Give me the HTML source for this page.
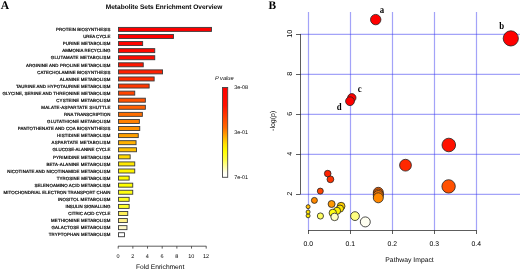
<!DOCTYPE html>
<html><head><meta charset="utf-8"><style>
html,body{margin:0;padding:0;background:#fff;width:520px;height:270px;overflow:hidden}
svg{display:block;will-change:transform} text{text-rendering:geometricPrecision}
</style></head><body>
<svg width="520" height="270" viewBox="0 0 520 270"><text x="0.8" y="8.6" font-family='"Liberation Serif", serif' font-weight="bold" font-size="11.6" textLength="8.4" lengthAdjust="spacingAndGlyphs">A</text>
<text x="105.8" y="8.9" font-family='"Liberation Sans", sans-serif' font-weight="bold" font-size="6.53" textLength="116.5" lengthAdjust="spacingAndGlyphs">Metabolite Sets Enrichment Overview</text>
<rect x="118.5" y="27.40" width="92.95" height="4" fill="#FF0000" stroke="#3a3a3a" stroke-width="0.9"/>
<text x="56.1" y="31.10" font-family='"Liberation Sans", sans-serif' font-size="4.4" fill="#000" stroke="#000" stroke-width="0.22" stroke-opacity="0.9" textLength="54.3" lengthAdjust="spacing">PROTEIN BIOSYNTHESIS</text>
<rect x="118.5" y="34.48" width="54.95" height="4" fill="#FF0000" stroke="#3a3a3a" stroke-width="0.9"/>
<text x="83.2" y="38.18" font-family='"Liberation Sans", sans-serif' font-size="4.4" fill="#000" stroke="#000" stroke-width="0.22" stroke-opacity="0.9" textLength="27.2" lengthAdjust="spacing">UREA CYCLE</text>
<rect x="118.5" y="41.56" width="24.15" height="4" fill="#FF0400" stroke="#3a3a3a" stroke-width="0.9"/>
<text x="62.8" y="45.26" font-family='"Liberation Sans", sans-serif' font-size="4.4" fill="#000" stroke="#000" stroke-width="0.22" stroke-opacity="0.9" textLength="47.6" lengthAdjust="spacing">PURINE METABOLISM</text>
<rect x="118.5" y="48.64" width="36.25" height="4" fill="#FF0800" stroke="#3a3a3a" stroke-width="0.9"/>
<text x="62.2" y="52.34" font-family='"Liberation Sans", sans-serif' font-size="4.4" fill="#000" stroke="#000" stroke-width="0.22" stroke-opacity="0.9" textLength="48.2" lengthAdjust="spacing">AMMONIA RECYCLING</text>
<rect x="118.5" y="55.72" width="36.25" height="4" fill="#FF0C00" stroke="#3a3a3a" stroke-width="0.9"/>
<text x="50.8" y="59.42" font-family='"Liberation Sans", sans-serif' font-size="4.4" fill="#000" stroke="#000" stroke-width="0.22" stroke-opacity="0.9" textLength="59.6" lengthAdjust="spacing">GLUTAMATE METABOLISM</text>
<rect x="118.5" y="62.80" width="24.75" height="4" fill="#FF1600" stroke="#3a3a3a" stroke-width="0.9"/>
<text x="26.1" y="66.50" font-family='"Liberation Sans", sans-serif' font-size="4.4" fill="#000" stroke="#000" stroke-width="0.22" stroke-opacity="0.9" textLength="84.3" lengthAdjust="spacing">ARGININE AND PROLINE METABOLISM</text>
<rect x="118.5" y="69.88" width="44.05" height="4" fill="#FF2000" stroke="#3a3a3a" stroke-width="0.9"/>
<text x="37.2" y="73.58" font-family='"Liberation Sans", sans-serif' font-size="4.4" fill="#000" stroke="#000" stroke-width="0.22" stroke-opacity="0.9" textLength="73.2" lengthAdjust="spacing">CATECHOLAMINE BIOSYNTHESIS</text>
<rect x="118.5" y="76.96" width="35.65" height="4" fill="#FF2C00" stroke="#3a3a3a" stroke-width="0.9"/>
<text x="59.8" y="80.66" font-family='"Liberation Sans", sans-serif' font-size="4.4" fill="#000" stroke="#000" stroke-width="0.22" stroke-opacity="0.9" textLength="50.6" lengthAdjust="spacing">ALANINE METABOLISM</text>
<rect x="118.5" y="84.04" width="30.65" height="4" fill="#FF3800" stroke="#3a3a3a" stroke-width="0.9"/>
<text x="15.9" y="87.74" font-family='"Liberation Sans", sans-serif' font-size="4.4" fill="#000" stroke="#000" stroke-width="0.22" stroke-opacity="0.9" textLength="94.5" lengthAdjust="spacing">TAURINE AND HYPOTAURINE METABOLISM</text>
<rect x="118.5" y="91.12" width="16.25" height="4" fill="#FF4400" stroke="#3a3a3a" stroke-width="0.9"/>
<text x="2.4" y="94.82" font-family='"Liberation Sans", sans-serif' font-size="4.4" fill="#000" stroke="#000" stroke-width="0.22" stroke-opacity="0.9" textLength="108.0" lengthAdjust="spacing">GLYCINE, SERINE AND THREONINE METABOLISM</text>
<rect x="118.5" y="98.20" width="26.85" height="4" fill="#FF5200" stroke="#3a3a3a" stroke-width="0.9"/>
<text x="56.3" y="101.90" font-family='"Liberation Sans", sans-serif' font-size="4.4" fill="#000" stroke="#000" stroke-width="0.22" stroke-opacity="0.9" textLength="54.1" lengthAdjust="spacing">CYSTEINE METABOLISM</text>
<rect x="118.5" y="105.28" width="26.85" height="4" fill="#FF6000" stroke="#3a3a3a" stroke-width="0.9"/>
<text x="41.3" y="108.98" font-family='"Liberation Sans", sans-serif' font-size="4.4" fill="#000" stroke="#000" stroke-width="0.22" stroke-opacity="0.9" textLength="69.1" lengthAdjust="spacing">MALATE-ASPARTATE SHUTTLE</text>
<rect x="118.5" y="112.36" width="23.85" height="4" fill="#FF6E00" stroke="#3a3a3a" stroke-width="0.9"/>
<text x="64.1" y="116.06" font-family='"Liberation Sans", sans-serif' font-size="4.4" fill="#000" stroke="#000" stroke-width="0.22" stroke-opacity="0.9" textLength="46.3" lengthAdjust="spacing">RNA TRANSCRIPTION</text>
<rect x="118.5" y="119.44" width="20.85" height="4" fill="#FF8000" stroke="#3a3a3a" stroke-width="0.9"/>
<text x="47.1" y="123.14" font-family='"Liberation Sans", sans-serif' font-size="4.4" fill="#000" stroke="#000" stroke-width="0.22" stroke-opacity="0.9" textLength="63.3" lengthAdjust="spacing">GLUTATHIONE METABOLISM</text>
<rect x="118.5" y="126.52" width="21.25" height="4" fill="#FF9000" stroke="#3a3a3a" stroke-width="0.9"/>
<text x="17.8" y="130.22" font-family='"Liberation Sans", sans-serif' font-size="4.4" fill="#000" stroke="#000" stroke-width="0.22" stroke-opacity="0.9" textLength="92.6" lengthAdjust="spacing">PANTOTHENATE AND COA BIOSYNTHESIS</text>
<rect x="118.5" y="133.60" width="19.75" height="4" fill="#FFA000" stroke="#3a3a3a" stroke-width="0.9"/>
<text x="57.1" y="137.30" font-family='"Liberation Sans", sans-serif' font-size="4.4" fill="#000" stroke="#000" stroke-width="0.22" stroke-opacity="0.9" textLength="53.3" lengthAdjust="spacing">HISTIDINE METABOLISM</text>
<rect x="118.5" y="140.68" width="17.55" height="4" fill="#FFB000" stroke="#3a3a3a" stroke-width="0.9"/>
<text x="51.5" y="144.38" font-family='"Liberation Sans", sans-serif' font-size="4.4" fill="#000" stroke="#000" stroke-width="0.22" stroke-opacity="0.9" textLength="58.9" lengthAdjust="spacing">ASPARTATE METABOLISM</text>
<rect x="118.5" y="147.76" width="17.95" height="4" fill="#FFC000" stroke="#3a3a3a" stroke-width="0.9"/>
<text x="52.6" y="151.46" font-family='"Liberation Sans", sans-serif' font-size="4.4" fill="#000" stroke="#000" stroke-width="0.22" stroke-opacity="0.9" textLength="57.8" lengthAdjust="spacing">GLUCOSE-ALANINE CYCLE</text>
<rect x="118.5" y="154.84" width="11.65" height="4" fill="#FFD800" stroke="#3a3a3a" stroke-width="0.9"/>
<text x="53.0" y="158.54" font-family='"Liberation Sans", sans-serif' font-size="4.4" fill="#000" stroke="#000" stroke-width="0.22" stroke-opacity="0.9" textLength="57.4" lengthAdjust="spacing">PYRIMIDINE METABOLISM</text>
<rect x="118.5" y="161.92" width="16.25" height="4" fill="#FFE800" stroke="#3a3a3a" stroke-width="0.9"/>
<text x="46.5" y="165.62" font-family='"Liberation Sans", sans-serif' font-size="4.4" fill="#000" stroke="#000" stroke-width="0.22" stroke-opacity="0.9" textLength="63.9" lengthAdjust="spacing">BETA-ALANINE METABOLISM</text>
<rect x="118.5" y="169.00" width="16.25" height="4" fill="#FFF500" stroke="#3a3a3a" stroke-width="0.9"/>
<text x="7.2" y="172.70" font-family='"Liberation Sans", sans-serif' font-size="4.4" fill="#000" stroke="#000" stroke-width="0.22" stroke-opacity="0.9" textLength="103.2" lengthAdjust="spacing">NICOTINATE AND NICOTINAMIDE METABOLISM</text>
<rect x="118.5" y="176.08" width="10.65" height="4" fill="#FFFC00" stroke="#3a3a3a" stroke-width="0.9"/>
<text x="56.7" y="179.78" font-family='"Liberation Sans", sans-serif' font-size="4.4" fill="#000" stroke="#000" stroke-width="0.22" stroke-opacity="0.9" textLength="53.7" lengthAdjust="spacing">TYROSINE METABOLISM</text>
<rect x="118.5" y="183.16" width="14.25" height="4" fill="#FFFF00" stroke="#3a3a3a" stroke-width="0.9"/>
<text x="34.5" y="186.86" font-family='"Liberation Sans", sans-serif' font-size="4.4" fill="#000" stroke="#000" stroke-width="0.22" stroke-opacity="0.9" textLength="75.9" lengthAdjust="spacing">SELENOAMINO ACID METABOLISM</text>
<rect x="118.5" y="190.24" width="14.25" height="4" fill="#FFFF10" stroke="#3a3a3a" stroke-width="0.9"/>
<text x="3.5" y="193.94" font-family='"Liberation Sans", sans-serif' font-size="4.4" fill="#000" stroke="#000" stroke-width="0.22" stroke-opacity="0.9" textLength="106.9" lengthAdjust="spacing">MITOCHONDRIAL ELECTRON TRANSPORT CHAIN</text>
<rect x="118.5" y="197.32" width="10.65" height="4" fill="#FFFF20" stroke="#3a3a3a" stroke-width="0.9"/>
<text x="57.8" y="201.02" font-family='"Liberation Sans", sans-serif' font-size="4.4" fill="#000" stroke="#000" stroke-width="0.22" stroke-opacity="0.9" textLength="52.6" lengthAdjust="spacing">INOSITOL METABOLISM</text>
<rect x="118.5" y="204.40" width="10.65" height="4" fill="#FFFF28" stroke="#3a3a3a" stroke-width="0.9"/>
<text x="65.4" y="208.10" font-family='"Liberation Sans", sans-serif' font-size="4.4" fill="#000" stroke="#000" stroke-width="0.22" stroke-opacity="0.9" textLength="45.0" lengthAdjust="spacing">INSULIN SIGNALLING</text>
<rect x="118.5" y="211.48" width="9.25" height="4" fill="#FFF058" stroke="#3a3a3a" stroke-width="0.9"/>
<text x="68.3" y="215.18" font-family='"Liberation Sans", sans-serif' font-size="4.4" fill="#000" stroke="#000" stroke-width="0.22" stroke-opacity="0.9" textLength="42.1" lengthAdjust="spacing">CITRIC ACID CYCLE</text>
<rect x="118.5" y="218.56" width="8.85" height="4" fill="#FFF088" stroke="#3a3a3a" stroke-width="0.9"/>
<text x="51.1" y="222.26" font-family='"Liberation Sans", sans-serif' font-size="4.4" fill="#000" stroke="#000" stroke-width="0.22" stroke-opacity="0.9" textLength="59.3" lengthAdjust="spacing">METHIONINE METABOLISM</text>
<rect x="118.5" y="225.64" width="8.45" height="4" fill="#FFF8C8" stroke="#3a3a3a" stroke-width="0.9"/>
<text x="51.5" y="229.34" font-family='"Liberation Sans", sans-serif' font-size="4.4" fill="#000" stroke="#000" stroke-width="0.22" stroke-opacity="0.9" textLength="58.9" lengthAdjust="spacing">GALACTOSE METABOLISM</text>
<rect x="118.5" y="232.72" width="5.95" height="4" fill="#FFFFFF" stroke="#3a3a3a" stroke-width="0.9"/>
<text x="48.7" y="236.42" font-family='"Liberation Sans", sans-serif' font-size="4.4" fill="#000" stroke="#000" stroke-width="0.22" stroke-opacity="0.9" textLength="61.7" lengthAdjust="spacing">TRYPTOPHAN METABOLISM</text>
<path d="M118 246.2H206.3M118.20 246.2V248.6M132.87 246.2V248.6M147.53 246.2V248.6M162.20 246.2V248.6M176.87 246.2V248.6M191.53 246.2V248.6M206.20 246.2V248.6" stroke="#333" stroke-width="0.8" fill="none"/>
<text x="118.00" y="257.5" text-anchor="middle" font-family='"Liberation Sans", sans-serif' font-size="5.5">0</text>
<text x="132.67" y="257.5" text-anchor="middle" font-family='"Liberation Sans", sans-serif' font-size="5.5">2</text>
<text x="147.33" y="257.5" text-anchor="middle" font-family='"Liberation Sans", sans-serif' font-size="5.5">4</text>
<text x="162.00" y="257.5" text-anchor="middle" font-family='"Liberation Sans", sans-serif' font-size="5.5">6</text>
<text x="176.67" y="257.5" text-anchor="middle" font-family='"Liberation Sans", sans-serif' font-size="5.5">8</text>
<text x="191.33" y="257.5" text-anchor="middle" font-family='"Liberation Sans", sans-serif' font-size="5.5">10</text>
<text x="206.00" y="257.5" text-anchor="middle" font-family='"Liberation Sans", sans-serif' font-size="5.5">12</text>
<text x="136" y="268.9" font-family='"Liberation Sans", sans-serif' font-size="6.65">Fold Enrichment</text>
<defs><linearGradient id="cb" x1="0" y1="0" x2="0" y2="1"><stop offset="0" stop-color="#FF0000"/><stop offset="0.2" stop-color="#FF1000"/><stop offset="0.45" stop-color="#FF6A00"/><stop offset="0.53" stop-color="#FFA000"/><stop offset="0.63" stop-color="#FFE000"/><stop offset="0.71" stop-color="#FFFF00"/><stop offset="0.80" stop-color="#FFFF40"/><stop offset="0.88" stop-color="#FFFFA0"/><stop offset="0.95" stop-color="#FFFFF0"/><stop offset="1" stop-color="#FFFFFF"/></linearGradient></defs>
<rect x="222.5" y="87.5" width="5.2" height="89.8" fill="url(#cb)" stroke="#444" stroke-width="0.9"/>
<text x="215" y="79.7" font-family='"Liberation Sans", sans-serif' font-style="italic" font-size="5.6" textLength="18.6" lengthAdjust="spacingAndGlyphs">P value</text>
<text x="234.2" y="89.00" font-family='"Liberation Sans", sans-serif' font-size="5.4">3e-08</text>
<text x="234.2" y="133.90" font-family='"Liberation Sans", sans-serif' font-size="5.4">3e-01</text>
<text x="234.2" y="178.90" font-family='"Liberation Sans", sans-serif' font-size="5.4">7e-01</text>
<text x="268.6" y="8.6" font-family='"Liberation Serif", serif' font-weight="bold" font-size="11.6" textLength="7.6" lengthAdjust="spacingAndGlyphs">B</text>
<path d="M308.5 12V230M350.5 12V230M392.5 12V230M434.5 12V230M476.5 12V230" stroke="rgb(50,50,240)" stroke-opacity="0.45" stroke-width="1.2" fill="none"/><path d="M300 34.3H520M300 74.3H520M300 114.3H520M300 154.3H520M300 194.3H520" stroke="rgb(50,50,240)" stroke-opacity="0.45" stroke-width="1.2" fill="none"/>
<path d="M300.5 34V194M296 34.5H300.5M296 74.5H300.5M296 114.5H300.5M296 154.5H300.5M296 194.5H300.5" stroke="#333" stroke-width="0.8" fill="none"/>
<path d="M308 230.5H476.5M308.5 230V234M350.5 230V234M392.5 230V234M434.5 230V234M476.5 230V234" stroke="#333" stroke-width="0.8" fill="none"/>
<text transform="translate(291.6 33.7) rotate(-90)" text-anchor="middle" font-family='"Liberation Sans", sans-serif' font-size="7.2">10</text>
<text transform="translate(291.6 73.7) rotate(-90)" text-anchor="middle" font-family='"Liberation Sans", sans-serif' font-size="7.2">8</text>
<text transform="translate(291.6 113.7) rotate(-90)" text-anchor="middle" font-family='"Liberation Sans", sans-serif' font-size="7.2">6</text>
<text transform="translate(291.6 153.7) rotate(-90)" text-anchor="middle" font-family='"Liberation Sans", sans-serif' font-size="7.2">4</text>
<text transform="translate(291.6 193.7) rotate(-90)" text-anchor="middle" font-family='"Liberation Sans", sans-serif' font-size="7.2">2</text>
<text x="308.3" y="246" text-anchor="middle" font-family='"Liberation Sans", sans-serif' font-size="6.8">0.0</text>
<text x="350.3" y="246" text-anchor="middle" font-family='"Liberation Sans", sans-serif' font-size="6.8">0.1</text>
<text x="392.3" y="246" text-anchor="middle" font-family='"Liberation Sans", sans-serif' font-size="6.8">0.2</text>
<text x="434.3" y="246" text-anchor="middle" font-family='"Liberation Sans", sans-serif' font-size="6.8">0.3</text>
<text x="476.3" y="246" text-anchor="middle" font-family='"Liberation Sans", sans-serif' font-size="6.8">0.4</text>
<text transform="translate(275 120.8) rotate(-90)" text-anchor="middle" font-family='"Liberation Sans", sans-serif' font-size="7">-log(p)</text>
<text x="385.3" y="261.7" font-family='"Liberation Sans", sans-serif' font-size="6.82">Pathway Impact</text>
<circle cx="365.3" cy="221.9" r="5" fill="#FFFFF0" stroke="#222" stroke-width="0.8"/>
<circle cx="355" cy="216.1" r="4.4" fill="#FFFF80" stroke="#222" stroke-width="0.8"/>
<circle cx="320.4" cy="216" r="3.1" fill="#FFFF60" stroke="#222" stroke-width="0.8"/>
<circle cx="308.1" cy="215.8" r="2.0" fill="#FFEA00" stroke="#222" stroke-width="0.8"/>
<circle cx="308.1" cy="212.0" r="2.0" fill="#FFE200" stroke="#222" stroke-width="0.8"/>
<circle cx="308.1" cy="206.7" r="2.0" fill="#FFC000" stroke="#222" stroke-width="0.8"/>
<circle cx="314.4" cy="200.4" r="3" fill="#FF8800" stroke="#222" stroke-width="0.8"/>
<circle cx="331.6" cy="204.0" r="3.5" fill="#FF9900" stroke="#222" stroke-width="0.8"/>
<circle cx="341.1" cy="206.2" r="3.9" fill="#FFCC00" stroke="#222" stroke-width="0.8"/>
<circle cx="340.0" cy="208.6" r="3.6" fill="#FFE400" stroke="#222" stroke-width="0.8"/>
<circle cx="337.0" cy="210.8" r="3.6" fill="#FFF200" stroke="#222" stroke-width="0.8"/>
<circle cx="332.8" cy="212.9" r="3.7" fill="#FFFF10" stroke="#222" stroke-width="0.8"/>
<circle cx="334.6" cy="216.9" r="3.8" fill="#FFFFC0" stroke="#222" stroke-width="0.8"/>
<circle cx="320.3" cy="191.1" r="3" fill="#FF4400" stroke="#222" stroke-width="0.8"/>
<circle cx="330.4" cy="179.3" r="3.4" fill="#FF3300" stroke="#222" stroke-width="0.8"/>
<circle cx="327.7" cy="173.6" r="3.3" fill="#FF2200" stroke="#222" stroke-width="0.8"/>
<circle cx="378.3" cy="192.3" r="5" fill="#FF6600" stroke="#222" stroke-width="0.8"/>
<circle cx="378.3" cy="194" r="5" fill="#FF7000" stroke="#222" stroke-width="0.8"/>
<circle cx="378.3" cy="195.6" r="5" fill="#FF7700" stroke="#222" stroke-width="0.8"/>
<circle cx="378.3" cy="197.8" r="5" fill="#FF8800" stroke="#222" stroke-width="0.8"/>
<circle cx="448.6" cy="186.4" r="6.7" fill="#FF5000" stroke="#222" stroke-width="0.8"/>
<circle cx="405.5" cy="165.2" r="5.9" fill="#FF2800" stroke="#222" stroke-width="0.8"/>
<circle cx="448.8" cy="145" r="6.8" fill="#FF1100" stroke="#222" stroke-width="0.8"/>
<circle cx="351.8" cy="97.8" r="4.2" fill="#FF0000" stroke="#222" stroke-width="0.8"/>
<circle cx="350" cy="101.2" r="4.4" fill="#FF0000" stroke="#222" stroke-width="0.8"/>
<circle cx="375.7" cy="19.6" r="5.2" fill="#FF0000" stroke="#222" stroke-width="0.8"/>
<circle cx="510.8" cy="38.4" r="7.6" fill="#FF0000" stroke="#222" stroke-width="0.8"/>
<text x="379.8" y="13.0" font-family='"Liberation Serif", serif' font-weight="bold" font-size="10" transform="translate(379.8 0) scale(0.88 1) translate(-379.8 0)">a</text>
<text x="499.3" y="28.8" font-family='"Liberation Serif", serif' font-weight="bold" font-size="10" transform="translate(499.3 0) scale(0.88 1) translate(-499.3 0)">b</text>
<text x="357.7" y="92.3" font-family='"Liberation Serif", serif' font-weight="bold" font-size="10" transform="translate(357.7 0) scale(0.88 1) translate(-357.7 0)">c</text>
<text x="336.7" y="109.5" font-family='"Liberation Serif", serif' font-weight="bold" font-size="10" transform="translate(336.7 0) scale(0.88 1) translate(-336.7 0)">d</text></svg>
</body></html>
